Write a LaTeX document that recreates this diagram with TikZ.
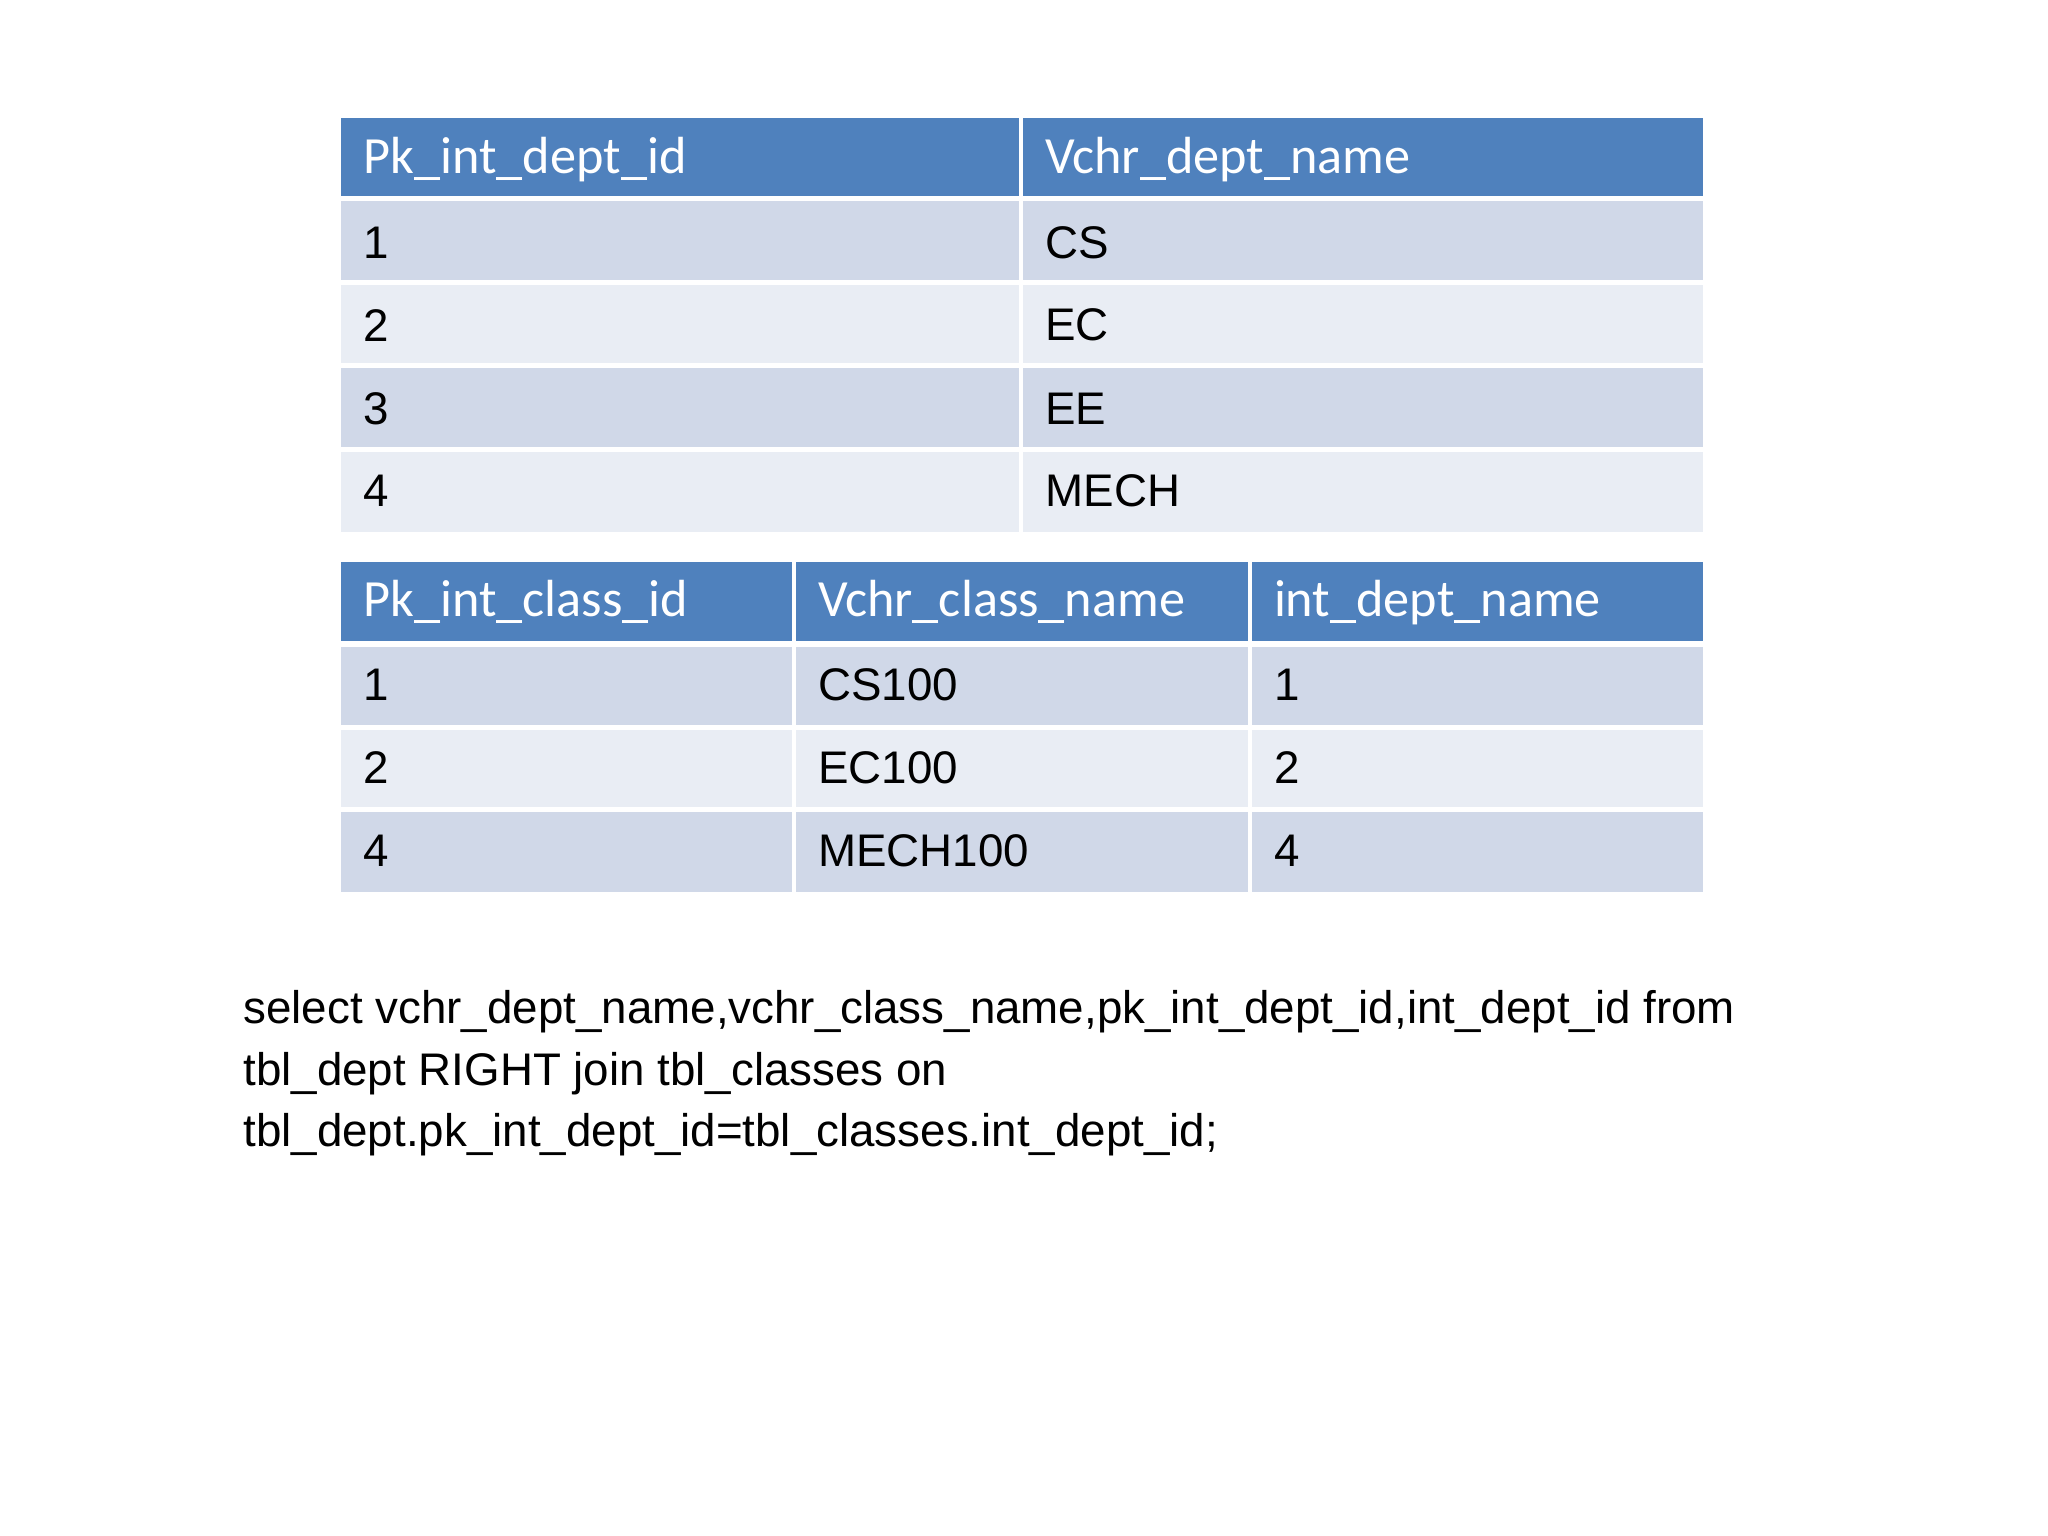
\documentclass[tikz,border=0pt]{standalone}
\usepackage{fontspec}
\setmainfont{Liberation Sans}
\newfontfamily\hdfont{Carlito}
\definecolor{hdr}{HTML}{4F81BD}
\definecolor{rowa}{HTML}{D0D8E8}
\definecolor{rowb}{HTML}{E9EDF4}
\begin{document}
\begin{tikzpicture}[x=0.5pt,y=-0.5pt,
  cell/.style={draw=white,line width=1.5pt,anchor=north west,inner sep=0pt,minimum height=31.5pt},
  hd/.style={cell,fill=hdr,text=white,font=\hdfont\fontsize{20}{24}\selectfont},
  ra/.style={cell,fill=rowa,font=\fontsize{17.5}{20}\selectfont},
  rb/.style={cell,fill=rowb,font=\fontsize{17.5}{20}\selectfont},
  txt/.style={anchor=west,inner sep=0pt}]
\useasboundingbox (0,0) rectangle (1568,1176);
% table 1
\newcommand\rowone[4]{%
  \fill[#1] (261,#2) rectangle (782,#2+63);
  \fill[#1] (782,#2) rectangle (1304,#2+63);
  \draw[white,line width=1.5pt] (782,#2) -- (782,#2+63);
  \node[txt] (a#2) at (278,#2+32) {#3};
  \node[txt] (b#2) at (800,#2+32) {#4};}
\begin{scope}[every node/.append style={font=\fontsize{17.5}{20}\selectfont}]
\rowone{hdr}{90}{\color{white}\hdfont\fontsize{20}{24}\selectfont Pk\_int\_dept\_id}{\color{white}\hdfont\fontsize{20}{24}\selectfont Vchr\_dept\_name}
\rowone{rowa}{154}{1}{CS}
\rowone{rowb}{217}{2}{EC}
\rowone{rowa}{281}{3}{EE}
\rowone{rowb}{344}{4}{MECH}
\end{scope}
\foreach \y in {152,216,280,344}{\draw[white,line width=2pt] (261,\y) -- (1304,\y);}
% table 2
\newcommand\rowtwo[5]{%
  \fill[#1] (261,#2) rectangle (1304,#2+63);
  \draw[white,line width=1.5pt] (608,#2) -- (608,#2+63);
  \draw[white,line width=1.5pt] (957,#2) -- (957,#2+63);
  \node[txt] (c#2) at (278,#2+31) {#3};
  \node[txt] (d#2) at (626,#2+31) {#4};
  \node[txt] (e#2) at (975,#2+31) {#5};}
\begin{scope}[every node/.append style={font=\fontsize{17.5}{20}\selectfont}]
\rowtwo{hdr}{430}{\color{white}\hdfont\fontsize{20}{24}\selectfont Pk\_int\_class\_id}{\color{white}\hdfont\fontsize{20}{24}\selectfont Vchr\_class\_name}{\color{white}\hdfont\fontsize{20}{24}\selectfont int\_dept\_name}
\rowtwo{rowa}{493}{1}{CS100}{1}
\rowtwo{rowb}{557}{2}{EC100}{2}
\rowtwo{rowa}{620}{4}{MECH100}{4}
\end{scope}
\foreach \y in {493,557,620}{\draw[white,line width=2pt] (261,\y) -- (1304,\y);}
% query
\node[anchor=north west,inner sep=0pt,align=left,font=\fontsize{17.5}{23.5}\selectfont] (q) at (186,758)
{select vchr\_dept\_name,vchr\_class\_name,pk\_int\_dept\_id,int\_dept\_id from\\
tbl\_dept RIGHT join tbl\_classes on\\
tbl\_dept.pk\_int\_dept\_id=tbl\_classes.int\_dept\_id;};
\end{tikzpicture}
\end{document}
